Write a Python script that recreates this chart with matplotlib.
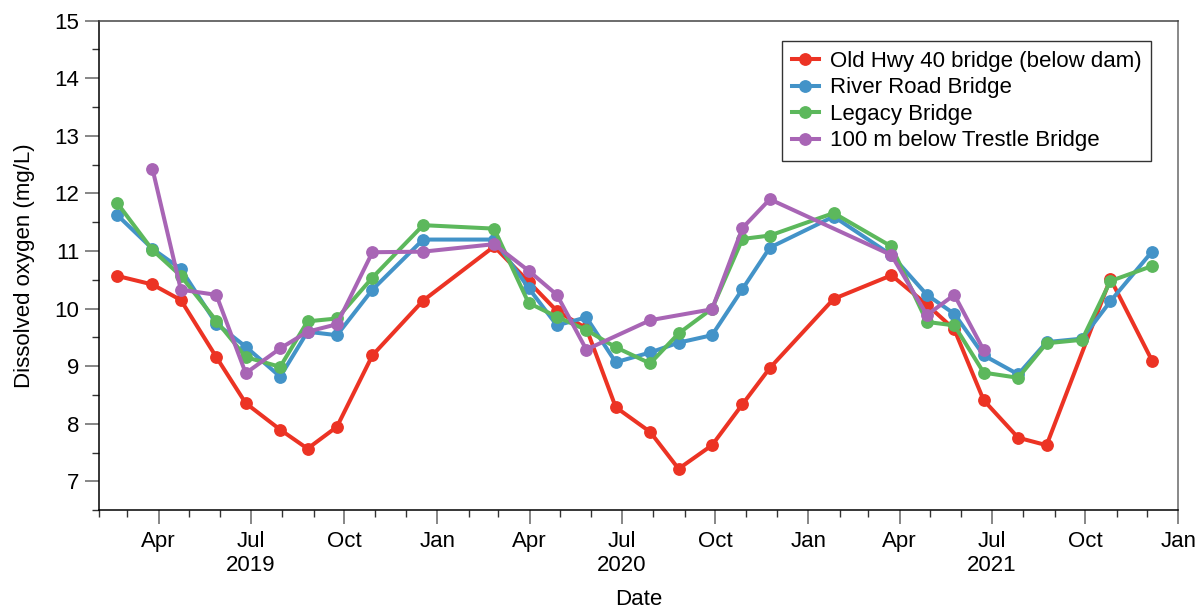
import numpy as np
import matplotlib
matplotlib.use("Agg")
import matplotlib.pyplot as plt
import matplotlib.dates as mdates
from matplotlib.ticker import FuncFormatter, MultipleLocator

plt.rcParams["font.family"] = ["Liberation Sans", "DejaVu Sans"]

# sampling dates
dates = np.array([
    "2019-02-19", "2019-03-26", "2019-04-23", "2019-05-28", "2019-06-26",
    "2019-07-30", "2019-08-26", "2019-09-24", "2019-10-29", "2019-12-18",
    "2020-02-26", "2020-03-31", "2020-04-28", "2020-05-27", "2020-06-25",
    "2020-07-29", "2020-08-26", "2020-09-28", "2020-10-28", "2020-11-24",
    "2021-01-26", "2021-03-24", "2021-04-28", "2021-05-25", "2021-06-23",
    "2021-07-27", "2021-08-24", "2021-09-28", "2021-10-26", "2021-12-06",
], dtype="datetime64[D]")

nan = np.nan
old_hwy = [10.57, 10.42, 10.15, 9.16, 8.36, 7.90, 7.57, 7.95, 9.19, 10.14,
           11.08, 10.47, 9.96, 9.66, 8.29, 7.86, 7.22, 7.63, 8.34, 8.97,
           10.17, 10.58, 10.07, 9.64, 8.41, 7.76, 7.63, nan, 10.52, 9.10]
river_road = [11.63, 11.04, 10.69, 9.74, 9.34, 8.82, 9.60, 9.54, 10.33, 11.20,
              11.20, 10.36, 9.71, 9.85, 9.07, 9.24, 9.41, 9.54, 10.34, 11.06,
              11.60, 10.93, 10.24, 9.91, 9.19, 8.86, 9.42, 9.48, 10.13, 10.99]
legacy = [11.84, 11.02, 10.57, 9.79, 9.16, 8.99, 9.78, 9.83, 10.54, 11.45,
          11.39, 10.10, 9.86, 9.63, 9.33, 9.05, 9.57, 10.00, 11.21, 11.27,
          11.66, 11.08, 9.77, 9.71, 8.89, 8.80, 9.40, 9.46, 10.48, 10.74]
trestle = [nan, 12.43, 10.33, 10.24, 8.88, 9.31, 9.60, 9.73, 10.98, 10.99,
           11.12, 10.66, 10.24, 9.29, nan, 9.80, nan, 9.99, 11.40, 11.90,
           nan, 10.93, 9.89, 10.24, 9.28, nan, nan, nan, nan, nan]

series = [
    ("Old Hwy 40 bridge (below dam)", old_hwy, "#ec3324"),
    ("River Road Bridge", river_road, "#4393c8"),
    ("Legacy Bridge", legacy, "#5cb85c"),
    ("100 m below Trestle Bridge", trestle, "#a865b5"),
]

fig = plt.figure(figsize=(11.98, 6.08), dpi=100)
ax = fig.add_axes([0.0824, 0.1607, 0.9012, 0.8053])

for label, vals, color in series:
    vals = np.array(vals, dtype=float)
    ok = ~np.isnan(vals)
    ax.plot(dates[ok], vals[ok], "-o", color=color, lw=2.9, ms=8.2, label=label)

ax.set_xlim(np.datetime64("2019-02-01"), np.datetime64("2022-01-01"))
ax.set_ylim(6.5, 15)

# y ticks: whole units labelled, halves as minor
ax.yaxis.set_minor_locator(MultipleLocator(0.5))
ax.set_yticks(np.arange(7, 16, 1))


def month_fmt(x, pos):
    d = mdates.num2date(x)
    name = d.strftime("%b")
    if d.month == 7:
        return f"{name}\n{d.year}"
    return name


ax.xaxis.set_major_locator(mdates.MonthLocator(bymonth=[1, 4, 7, 10]))
ax.xaxis.set_minor_locator(mdates.MonthLocator())
ax.xaxis.set_major_formatter(FuncFormatter(month_fmt))

ax.tick_params(which="major", length=10, width=1.1, color="#666666",
               labelsize=16, pad=4)
ax.tick_params(axis="x", which="major", pad=5)
ax.tick_params(which="minor", length=5, width=1.0, color="#333333")

for side in ["left", "bottom"]:
    ax.spines[side].set_color("black")
    ax.spines[side].set_linewidth(1.1)
ax.spines["top"].set_color("#444444")
ax.spines["right"].set_color("#888888")
ax.spines["top"].set_linewidth(1.1)
ax.spines["right"].set_linewidth(1.4)

ax.set_ylabel("Dissolved oxygen (mg/L)", fontsize=16, labelpad=14)
ax.set_xlabel("Date", fontsize=16, labelpad=9)

leg = ax.legend(loc="upper right", bbox_to_anchor=(0.975, 0.959), fontsize=16,
                frameon=True, fancybox=False, handlelength=1.2,
                handletextpad=0.5, borderpad=0.45, labelspacing=0.25,
                borderaxespad=0)
leg.get_frame().set_edgecolor("black")
leg.get_frame().set_linewidth(1.0)

fig.savefig("out.png", dpi=100)
